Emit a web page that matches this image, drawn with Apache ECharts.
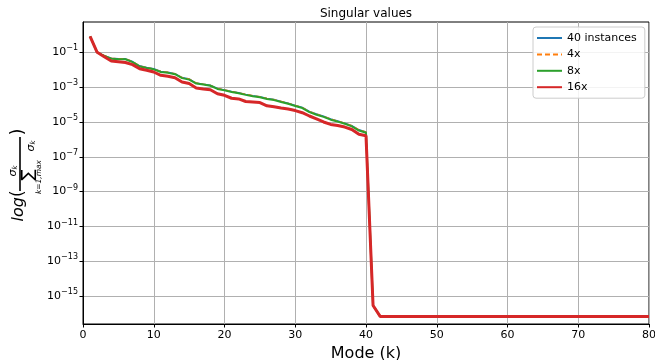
<!DOCTYPE html>
<html>
<head>
<meta charset="utf-8">
<script src="https://cdn.jsdelivr.net/npm/echarts@6/dist/echarts.min.js"></script>
<style>
html,body{margin:0;padding:0;background:#fff;}
#main{width:655px;height:360px;}
</style>
</head>
<body>
<div id="main"></div>
<script>
// 奇异值（归一化），模态 k = 1..80
var modes = [];
for (var k = 1; k <= 80; k++) modes.push(k);

var seriesNames = ['40 instances', '4x', '8x', '16x'];
var yTicks = [1e-15, 1e-13, 1e-11, 1e-9, 1e-7, 1e-5, 1e-3, 1e-1];

// k = 42..80 后面都一样平
var tail = [
	6.8e-17, 6.8e-17, 6.8e-17, 6.8e-17, 6.8e-17, 6.8e-17, 6.8e-17, 6.8e-17, 6.8e-17, 6.8e-17,
	6.8e-17, 6.8e-17, 6.8e-17, 6.8e-17, 6.8e-17, 6.8e-17, 6.8e-17, 6.8e-17, 6.8e-17, 6.8e-17,
	6.8e-17, 6.8e-17, 6.8e-17, 6.8e-17, 6.8e-17, 6.8e-17, 6.8e-17, 6.8e-17, 6.8e-17, 6.8e-17,
	6.8e-17, 6.8e-17, 6.8e-17, 6.8e-17, 6.8e-17, 6.8e-17, 6.8e-17, 6.8e-17, 6.8e-17
];

var inst40 = [
	8.3e-1, 1.0e-1, 6.6e-2, 4.6e-2, 4.3e-2, 4.3e-2, 3.0e-2, 1.7e-2, 1.35e-2, 1.15e-2,
	8.0e-3, 7.2e-3, 6.0e-3, 3.6e-3, 3.0e-3, 1.75e-3, 1.5e-3, 1.3e-3, 8.6e-4, 7.1e-4,
	5.7e-4, 4.8e-4, 3.9e-4, 3.3e-4, 2.9e-4, 2.3e-4, 2.0e-4, 1.55e-4, 1.2e-4, 9.1e-5,
	6.9e-5, 4.1e-5, 2.9e-5, 2.15e-5, 1.5e-5, 1.15e-5, 8.7e-6, 6.2e-6, 3.6e-6, 2.7e-6,
	2.9e-16
].concat(tail);

var x4 = [
	8.3e-1, 1.0e-1, 6.5e-2, 4.5e-2, 4.2e-2, 4.2e-2, 2.9e-2, 1.65e-2, 1.3e-2, 1.1e-2,
	7.8e-3, 7.0e-3, 5.8e-3, 3.5e-3, 2.9e-3, 1.7e-3, 1.45e-3, 1.25e-3, 8.3e-4, 6.9e-4,
	5.5e-4, 4.6e-4, 3.8e-4, 3.2e-4, 2.8e-4, 2.2e-4, 1.9e-4, 1.5e-4, 1.15e-4, 8.8e-5,
	6.7e-5, 3.9e-5, 2.8e-5, 2.05e-5, 1.45e-5, 1.1e-5, 8.4e-6, 6.0e-6, 3.5e-6, 2.6e-6,
	2.9e-16
].concat(tail);

var x8 = [
	8.3e-1, 1.0e-1, 6.3e-2, 4.3e-2, 4.0e-2, 4.0e-2, 2.75e-2, 1.55e-2, 1.26e-2, 1.05e-2,
	7.4e-3, 6.6e-3, 5.5e-3, 3.3e-3, 2.7e-3, 1.6e-3, 1.4e-3, 1.2e-3, 7.9e-4, 6.5e-4,
	5.2e-4, 4.4e-4, 3.6e-4, 3.0e-4, 2.6e-4, 2.1e-4, 1.8e-4, 1.4e-4, 1.1e-4, 8.3e-5,
	6.3e-5, 3.7e-5, 2.6e-5, 1.95e-5, 1.35e-5, 1.05e-5, 7.9e-6, 5.6e-6, 3.2e-6, 2.4e-6,
	2.9e-16
].concat(tail);

var x16 = [
	8.3e-1, 1.0e-1, 5.6e-2, 3.2e-2, 2.9e-2, 2.6e-2, 1.95e-2, 1.15e-2, 9.3e-3, 7.4e-3,
	4.8e-3, 4.2e-3, 3.5e-3, 1.95e-3, 1.6e-3, 8.9e-4, 7.9e-4, 7.1e-4, 4.2e-4, 3.4e-4,
	2.3e-4, 2.1e-4, 1.5e-4, 1.4e-4, 1.3e-4, 8.5e-5, 7.4e-5, 6.3e-5, 5.5e-5, 4.5e-5,
	3.4e-5, 2.2e-5, 1.5e-5, 1.0e-5, 7.2e-6, 6.3e-6, 5.1e-6, 3.7e-6, 1.95e-6, 1.6e-6,
	2.9e-16
].concat(tail);

var FONT = 'DejaVu Sans';

function $each(arr, fn){ for (var i = 0; i < arr.length; i++) fn(i, arr[i]); }
var pairs = function(vals){
	var out = [];
	$each(vals, function(i, v){ out.push([modes[i], v]); });
	return out;
};

var sigmaRich = {
	a: {fontFamily: FONT, fontSize: 11, fontStyle: 'italic', fill: '#000'},
	b: {fontFamily: FONT, fontSize: 7, fontStyle: 'italic', fill: '#000', padding: [5, 0, 0, 0]}
};

var chart = echarts.init(document.getElementById('main'), null, {renderer: 'canvas'});
var option = {
	animation: false,
	backgroundColor: '#fff',
	title: {
		text: 'Singular values',
		left: 366,
		textAlign: 'center',
		top: 8,
		padding: 0,
		textStyle: {fontFamily: FONT, fontSize: 12, fontWeight: 'normal', color: '#000'}
	},
	grid: {
		left: 83, right: 6, top: 22, bottom: 36,
		containLabel: false,
		outerBoundsMode: 'none',
		show: true, borderColor: '#000', borderWidth: 1
	},
	legend: {
		data: seriesNames,
		orient: 'vertical',
		left: 533,
		top: 27,
		padding: [4, 8, 4, 3],
		itemWidth: 25,
		itemHeight: 14,
		itemGap: 2.4,
		itemStyle: {opacity: 0},
		backgroundColor: 'rgba(255,255,255,0.85)',
		borderColor: '#cccccc',
		borderWidth: 1,
		borderRadius: 3,
		textStyle: {fontFamily: FONT, fontSize: 11, color: '#000', lineHeight: 14}
	},
	xAxis: {
		type: 'value',
		min: 0, max: 80, interval: 10,
		name: 'Mode (k)',
		nameLocation: 'middle',
		nameGap: 19,
		nameTextStyle: {fontFamily: FONT, fontSize: 16, color: '#000'},
		axisLine: {show: true, lineStyle: {color: '#000', width: 1}},
		axisTick: {show: true, length: 3.5, lineStyle: {color: '#000'}},
		axisLabel: {fontFamily: FONT, fontSize: 11, color: '#000', margin: 6},
		splitLine: {show: true, lineStyle: {color: '#b0b0b0', width: 1}}
	},
	yAxis: {
		type: 'log',
		logBase: 10,
		min: 2.5e-17,
		max: 5.5,
		axisLine: {show: true, lineStyle: {color: '#000', width: 1}},
		axisTick: {show: true, length: 3.5, lineStyle: {color: '#000'}, customValues: yTicks},
		axisLabel: {
			customValues: yTicks,
			fontFamily: FONT, fontSize: 11, color: '#000', margin: 5,
			formatter: function(v){
				var e = Math.round(Math.log(v) / Math.LN10);
				return '{b|10}{s|' + (e < 0 ? '−' : '') + Math.abs(e) + '}';
			},
			rich: {
				b: {fontFamily: FONT, fontSize: 11, color: '#000'},
				s: {fontFamily: FONT, fontSize: 8, color: '#000', padding: [0, 0, 8, 0]}
			}
		},
		splitLine: {show: true, lineStyle: {color: '#b0b0b0', width: 1}}
	},
	graphic: [{
		type: 'group',
		x: 20, y: 175,
		rotation: Math.PI / 2,
		children: [
			{type: 'text', x: -31, y: -1, style: {
				text: '{i|log}{p|(}', align: 'center', verticalAlign: 'middle',
				rich: {
					i: {fontFamily: FONT, fontSize: 16, fontStyle: 'italic', fill: '#000'},
					p: {fontFamily: FONT, fontSize: 17, fill: '#000'}
				}
			}},
			{type: 'line', shape: {x1: -16, y1: 0, x2: 38, y2: 0}, style: {stroke: '#000', lineWidth: 1.6}},
			{type: 'text', x: 4, y: -7, style: {
				text: '{a|σ}{b|k}', align: 'center', verticalAlign: 'middle', rich: sigmaRich
			}},
			{type: 'text', x: 0, y: 9, style: {
				text: '∑', align: 'center', verticalAlign: 'middle',
				fontFamily: FONT, fontSize: 17, fill: '#000'
			}},
			{type: 'text', x: -2, y: 19.5, style: {
				text: 'k=1,max', align: 'center', verticalAlign: 'middle',
				fontFamily: FONT, fontSize: 7.5, fontStyle: 'italic', fill: '#000'
			}},
			{type: 'text', x: 29, y: 11, style: {
				text: '{a|σ}{b|k}', align: 'center', verticalAlign: 'middle', rich: sigmaRich
			}},
			{type: 'text', x: 43, y: -1, style: {
				text: ')', align: 'center', verticalAlign: 'middle',
				fontFamily: FONT, fontSize: 17, fill: '#000'
			}}
		]
	}],
	series: [
		{
			name: seriesNames[0], type: 'line', data: pairs(inst40),
			symbol: 'none', showSymbol: false, z: 2,
			lineStyle: {color: '#1f77b4', width: 1.2}, itemStyle: {color: '#1f77b4'}
		},
		{
			name: seriesNames[1], type: 'line', data: pairs(x4),
			symbol: 'none', showSymbol: false, z: 3,
			lineStyle: {color: '#ff7f0e', width: 1.6, type: [5, 3]}, itemStyle: {color: '#ff7f0e'}
		},
		{
			name: seriesNames[2], type: 'line', data: pairs(x8),
			symbol: 'none', showSymbol: false, z: 4,
			lineStyle: {color: '#2ca02c', width: 2}, itemStyle: {color: '#2ca02c'}
		},
		{
			name: seriesNames[3], type: 'line', data: pairs(x16),
			symbol: 'none', showSymbol: false, z: 5,
			lineStyle: {color: '#d62728', width: 3}, itemStyle: {color: '#d62728'}
		}
	]
};
chart.setOption(option);
</script>
</body>
</html>
